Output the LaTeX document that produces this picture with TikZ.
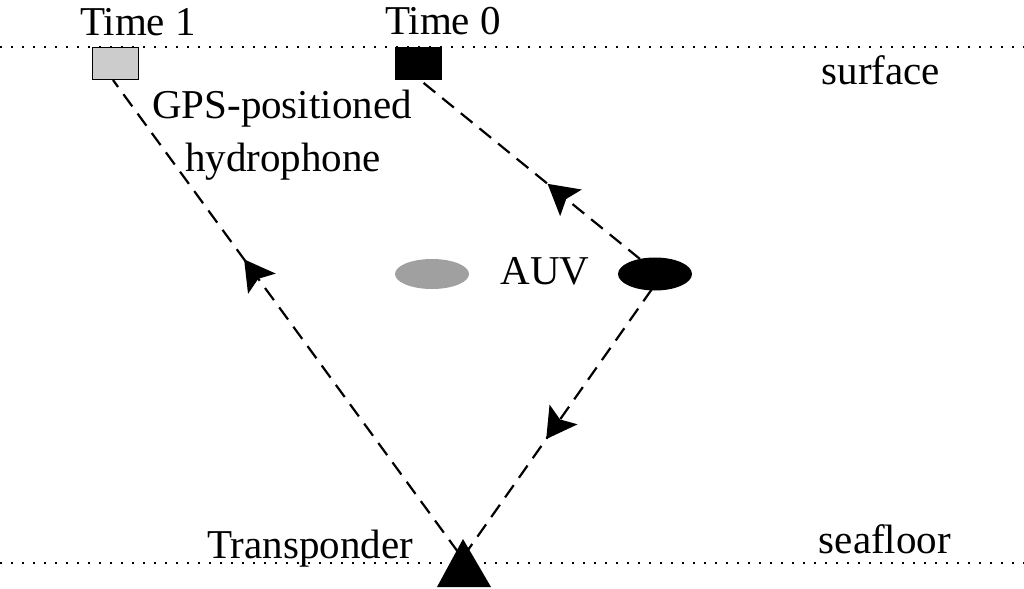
\documentclass[tikz,border=0pt]{standalone}
\usepackage{fontspec}
\setmainfont{Liberation Serif}
\usetikzlibrary{shapes.geometric,arrows.meta,decorations.markings}
\definecolor{lightbox}{HTML}{CCCCCC}
\definecolor{auvgray}{HTML}{A0A0A0}
\tikzset{
  lbl/.style={font=\fontsize{20.5pt}{24pt}\selectfont, anchor=base, inner sep=0pt},
  level/.style={line width=1.1pt, dash pattern=on 1pt off 4.5pt},
  path/.style={line width=1.1pt, dash pattern=on 7.5pt off 4.5pt},
  midarrow/.style={postaction={decorate, decoration={markings,
      mark=at position #1 with {\arrow{Stealth[length=15pt,width=17pt,inset=3pt]}}}}},
  boxnode/.style={rectangle, draw=black, line width=0.8pt, minimum width=23pt, minimum height=16pt, inner sep=0pt},
  auvnode/.style={ellipse, minimum width=37pt, minimum height=15pt, inner sep=0pt}
}
\begin{document}
\begin{tikzpicture}[x=0.5pt,y=-0.5pt]
\useasboundingbox (0,0) rectangle (1024,589);
% levels
\coordinate (sl) at (0,47); \coordinate (sr) at (1024,47);
\coordinate (fl) at (0,563); \coordinate (fr) at (1024,563);
\draw[level] (sl) -- (sr);
\draw[level] (fl) -- (fr);
% hydrophone positions
\node[boxnode, fill=lightbox] (t1) at (115.5,63.5) {};
\node[boxnode, fill=black] (t0) at (418.5,63.5) {};
% AUVs
\node[auvnode, fill=auvgray] (auv0) at (432,274) {};
\node[auvnode, fill=black, minimum height=16.5pt] (auv1) at (655,274) {};
% transponder
\coordinate (tr) at (463,548);
\coordinate (trl) at (458,552);
\coordinate (trr) at (468,550);
\coordinate (t1b) at (113,80);
\coordinate (t0b) at (420,80);
\coordinate (auvt) at (640,259);
\coordinate (auvb) at (652,289);
% paths
\draw[path, midarrow=0.62] (trl) -- (t1b);
\draw[path, midarrow=0.42] (auvt) -- (t0b);
\draw[path, midarrow=0.575] (auvb) -- (trr);
\fill (437,587) -- (463,539) -- (491,587) -- cycle;
% labels
\node[lbl] (time1) at (138,35) {Time 1};
\node[lbl] (time0) at (443,34) {Time 0};
\node[lbl] (surf) at (881,84) {surface};
\node[lbl] (gps) at (282,118) {GPS-positioned};
\node[lbl] (hyd) at (283,171) {hydrophone};
\node[lbl] (auvl) at (545,284) {AUV};
\node[lbl] (trans) at (310,558) {Transponder};
\node[lbl] (sea) at (885,553) {seafloor};
\end{tikzpicture}
\end{document}
